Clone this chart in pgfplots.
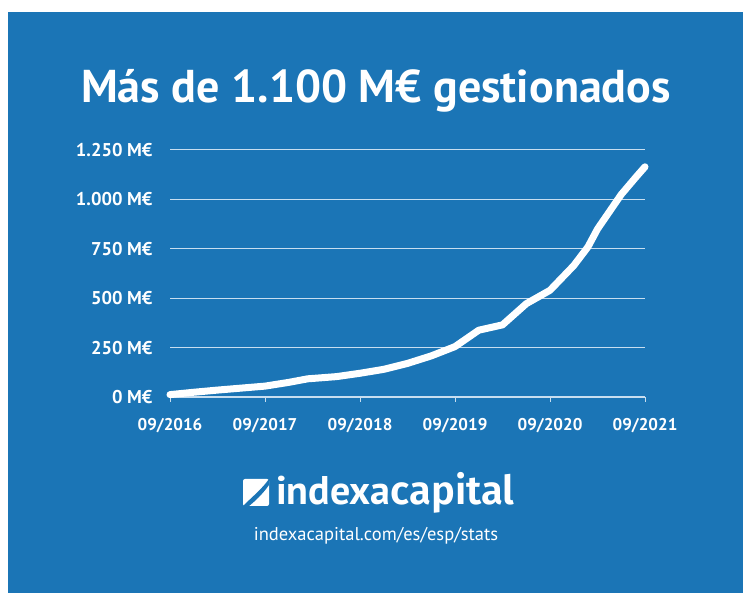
\documentclass[border=0pt]{standalone}
\usepackage{pgfplots}
\pgfplotsset{compat=1.18}
\usepackage{fontspec}
\setmainfont{PT Sans}
\newfontfamily\lightfont{Fira Sans}[UprightFont={* Light}]
\definecolor{bg}{RGB}{27,117,182}
\definecolor{gridc}{RGB}{200,222,240}
\pgfplotstableread{
t v
0 12
0.25 24
0.5 35
0.75 45
1 55
1.25 74
1.45 92
1.75 103
2 120
2.25 140
2.5 170
2.75 208
3 255
3.25 338
3.5 365
3.75 472
4 540
4.25 665
4.4 760
4.5 850
4.75 1025
4.9 1110
5 1165
}\aum
\begin{document}
\begin{tikzpicture}[x=1pt,y=1pt]
\fill[white] (0pt,0pt) rectangle (743pt,593pt);
\fill[bg] (8pt,0pt) rectangle (743pt,581pt);
\node[white,anchor=base,font=\fontsize{46}{50}\selectfont\bfseries] at (376pt,490pt) {Más de 1.100 M€ gestionados};
\begin{axis}[
  at={(170pt,196pt)}, anchor=south west,
  scale only axis, width=475pt, height=247pt,
  xmin=0, xmax=5, ymin=0, ymax=1250,
  clip=false,
  axis x line=bottom, axis y line=left,
  x axis line style={gridc, line width=1.2pt, -},
  y axis line style={draw=none},
  xtick={0,1,2,3,4,5},
  xticklabels={09/2016,09/2017,09/2018,09/2019,09/2020,09/2021},
  ytick={0,250,500,750,1000,1250},
  yticklabels={0 M€,250 M€,500 M€,750 M€,1.000 M€,1.250 M€},
  ymajorgrids, grid style={gridc, line width=1pt},
  tick align=outside, major tick length=5pt,
  xtick style={gridc, line width=1pt},
  ytick style={draw=none},
  tick label style={white, font=\fontsize{17}{20}\selectfont\bfseries},
  yticklabel style={xshift=-9pt, font=\fontsize{18.5}{20}\selectfont\bfseries},
  xticklabel style={yshift=-13pt},
]
\addplot[white, line width=7pt, line cap=round, line join=round] table[x=t,y=v] {\aum};
\end{axis}
% logo icon
\fill[white, rounded corners=2pt] (243pt,87pt) rectangle (269pt,114pt);
\fill[bg] (243pt,87pt) .. controls (252pt,96pt) and (262pt,104pt) .. (269pt,114pt) -- (269pt,108pt) .. controls (262pt,98pt) and (254pt,91pt) .. (249pt,87pt) -- cycle;
\node[white,anchor=base west,inner sep=0pt] at (276pt,88pt) {\fontsize{40}{42}\selectfont\bfseries indexa\lightfont capital};
\node[white,anchor=base,inner sep=0pt] at (376pt,52pt) {\fontsize{18.5}{22}\selectfont indexacapital.com/es/esp/stats};
\end{tikzpicture}
\end{document}
